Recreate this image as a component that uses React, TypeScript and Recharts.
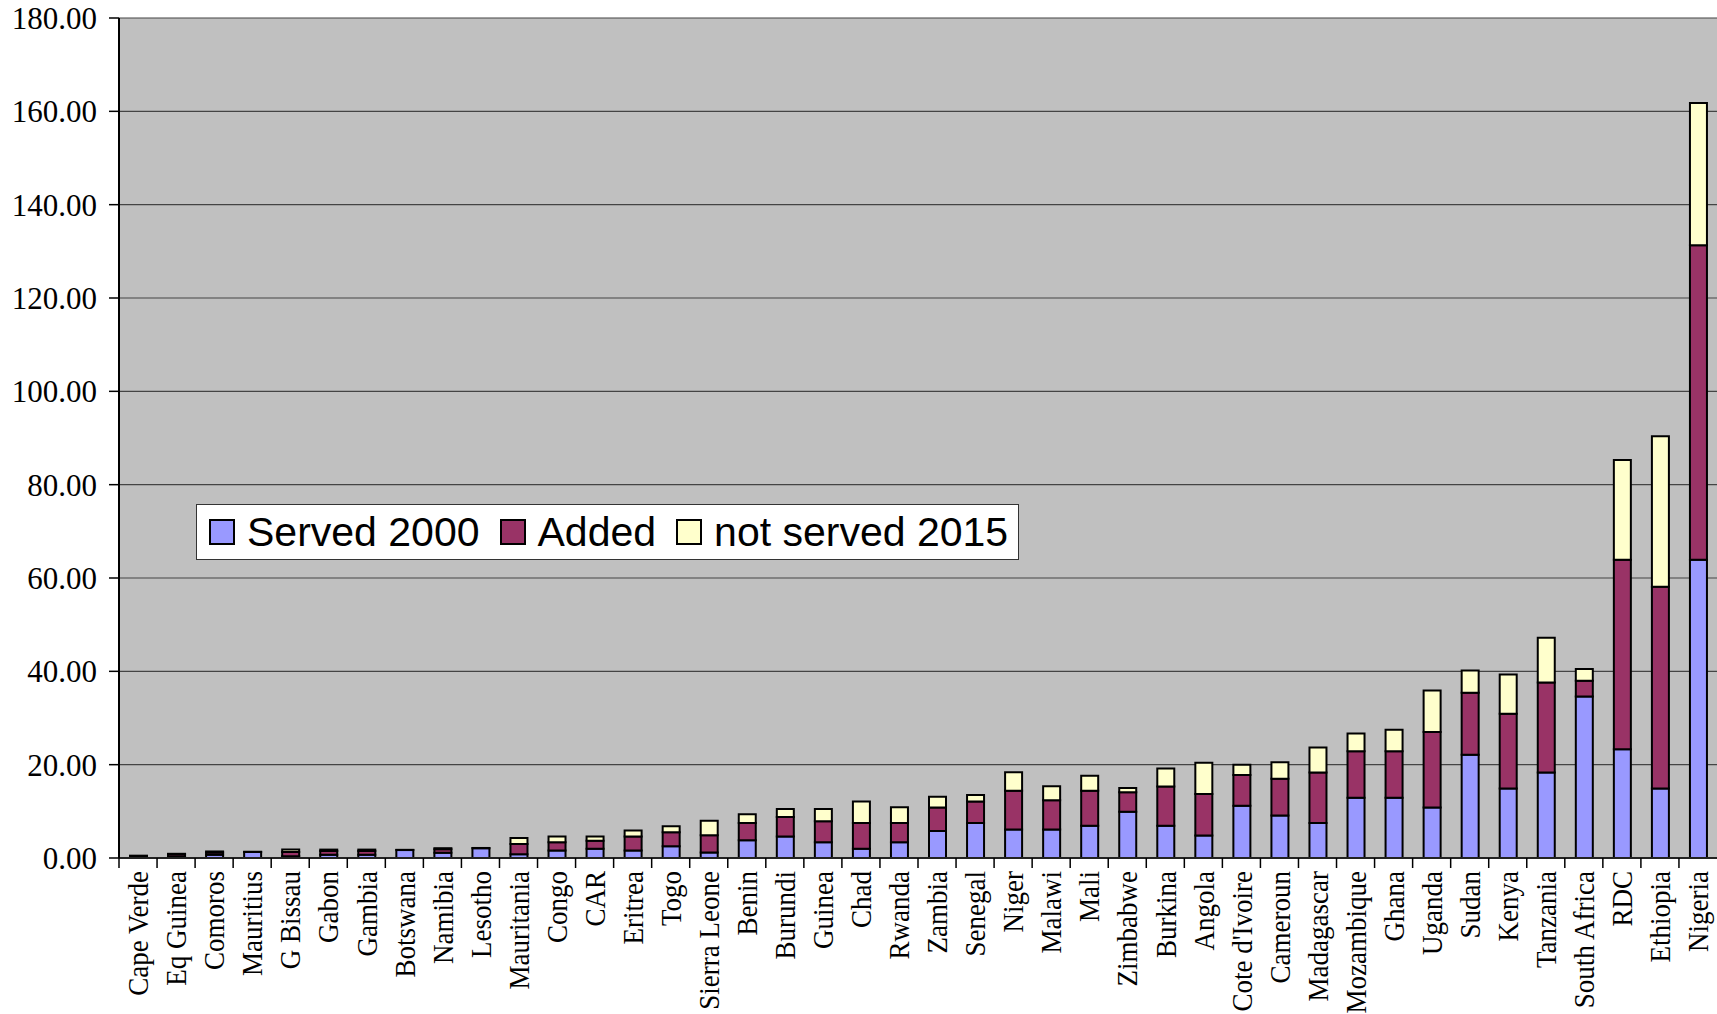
import React from 'react';
import { BarChart, Bar, XAxis, YAxis, CartesianGrid } from 'recharts';

const categories = [
  'Cape Verde', 'Eq Guinea', 'Comoros', 'Mauritius', 'G Bissau', 'Gabon', 'Gambia', 'Botswana',
  'Namibia', 'Lesotho', 'Mauritania', 'Congo', 'CAR', 'Eritrea', 'Togo', 'Sierra Leone', 'Benin',
  'Burundi', 'Guinea', 'Chad', 'Rwanda', 'Zambia', 'Senegal', 'Niger', 'Malawi', 'Mali', 'Zimbabwe',
  'Burkina', 'Angola', "Cote d'Ivoire", 'Cameroun', 'Madagascar', 'Mozambique', 'Ghana', 'Uganda',
  'Sudan', 'Kenya', 'Tanzania', 'South Africa', 'RDC', 'Ethiopia', 'Nigeria',
];

const served2000 = [
  0.2, 0.3, 0.7, 1.3, 0.4, 0.7, 0.7, 1.7, 1.1, 2.1, 0.8, 1.6, 2.0, 1.6, 2.5, 1.2, 3.8, 4.6, 3.4, 2.0,
  3.4, 5.8, 7.5, 6.1, 6.1, 6.9, 9.9, 6.9, 4.8, 11.2, 9.1, 7.5, 12.9, 12.9, 10.8, 22.1, 14.9, 18.3,
  34.6, 23.3, 14.9, 63.9,
];

const added = [
  0.2, 0.5, 0.5, 0.05, 0.9, 0.8, 0.8, 0.05, 0.8, 0.05, 2.2, 1.8, 1.7, 3.0, 3.0, 3.7, 3.7, 4.2, 4.5, 5.5,
  4.1, 5.0, 4.6, 8.3, 6.3, 7.5, 4.2, 8.4, 8.9, 6.6, 7.9, 10.8, 10.0, 10.0, 16.2, 13.3, 16.0, 19.3,
  3.4, 40.6, 43.2, 67.4,
];

const notServed2015 = [
  0.1, 0.1, 0.2, 0, 0.5, 0.3, 0.3, 0, 0.2, 0, 1.3, 1.2, 0.9, 1.3, 1.3, 3.1, 1.9, 1.7, 2.6, 4.6,
  3.4, 2.3, 1.4, 4.0, 3.0, 3.2, 0.9, 3.9, 6.7, 2.2, 3.5, 5.4, 3.8, 4.6, 8.9, 4.8, 8.4, 9.6,
  2.5, 21.4, 32.3, 30.5,
];

const yTicks = [0, 20, 40, 60, 80, 100, 120, 140, 160, 180];

const series = [
  { key: 'served', name: 'Served 2000', color: '#9999FF' },
  { key: 'added', name: 'Added', color: '#993366' },
  { key: 'notServed', name: 'not served 2015', color: '#FFFFCC' },
];

const data = categories.map((country, i) => ({
  country,
  served: served2000[i],
  added: added[i],
  notServed: notServed2015[i],
}));

const WIDTH = 1717;
const HEIGHT = 1014;
const Y_AXIS_W = 119;
const BAND = (WIDTH - Y_AXIS_W) / categories.length;
const SERIF = "'Liberation Serif', 'Times New Roman', serif";

const XTick = (props: any) => {
  const { x, y, payload } = props;
  const half = BAND / 2;
  return (
    <g>
      <line x1={x - half} x2={x - half} y1={y} y2={y + 10} stroke="#000" strokeWidth={1.5} />
      <text
        transform={`translate(${x},${y + 13}) rotate(-90) scale(1,1.08)`}
        textAnchor="end"
        dy="0.35em"
        fontSize={27}
        fontFamily={SERIF}
        fill="#000"
      >
        {payload.value}
      </text>
    </g>
  );
};

const LegendBox = () => (
  <div
    style={{
      position: 'absolute',
      left: 196,
      top: 504,
      width: 823,
      height: 56,
      boxSizing: 'border-box',
      background: '#fff',
      border: '1.5px solid #333',
      display: 'flex',
      alignItems: 'center',
      paddingLeft: 12,
      fontFamily: "'Liberation Sans', Arial, sans-serif",
      fontSize: 41,
      color: '#000',
      whiteSpace: 'nowrap',
    }}
  >
    {series.map(s => (
      <span key={s.key} style={{ display: 'flex', alignItems: 'center', marginRight: 20 }}>
        <span
          style={{
            display: 'inline-block',
            width: 22,
            height: 22,
            background: s.color,
            border: '2px solid #000',
            marginRight: 12,
          }}
        />
        {s.name}
      </span>
    ))}
  </div>
);

export default function App() {
  return (
    <div style={{ position: 'absolute', left: 0, top: 0, width: WIDTH, height: HEIGHT, background: '#fff' }}>
      <BarChart
        width={WIDTH}
        height={HEIGHT}
        data={data}
        margin={{ top: 18, right: 0, left: 0, bottom: 0 }}
        barCategoryGap={0}
      >
        <CartesianGrid vertical={false} fill="#C0C0C0" stroke="#444" strokeWidth={1.2} />
        <XAxis
          dataKey="country"
          interval={0}
          height={156}
          tickSize={0}
          tickMargin={0}
          tickLine={false}
          axisLine={{ stroke: '#222', strokeWidth: 2 }}
          tick={<XTick />}
        />
        <YAxis
          width={Y_AXIS_W}
          domain={[0, 180]}
          ticks={yTicks}
          tickFormatter={(v: number) => v.toFixed(2)}
          tickSize={10}
          tickMargin={12}
          tickLine={{ stroke: '#000', strokeWidth: 1.5 }}
          axisLine={{ stroke: '#000', strokeWidth: 2 }}
          tick={{ fontSize: 31, fill: '#000', fontFamily: SERIF }}
        />
        {series.map(s => (
          <Bar
            key={s.key}
            dataKey={s.key}
            name={s.name}
            stackId="a"
            fill={s.color}
            stroke="#000"
            strokeWidth={2}
            barSize={17}
            isAnimationActive={false}
          />
        ))}
      </BarChart>
      <LegendBox />
    </div>
  );
}
